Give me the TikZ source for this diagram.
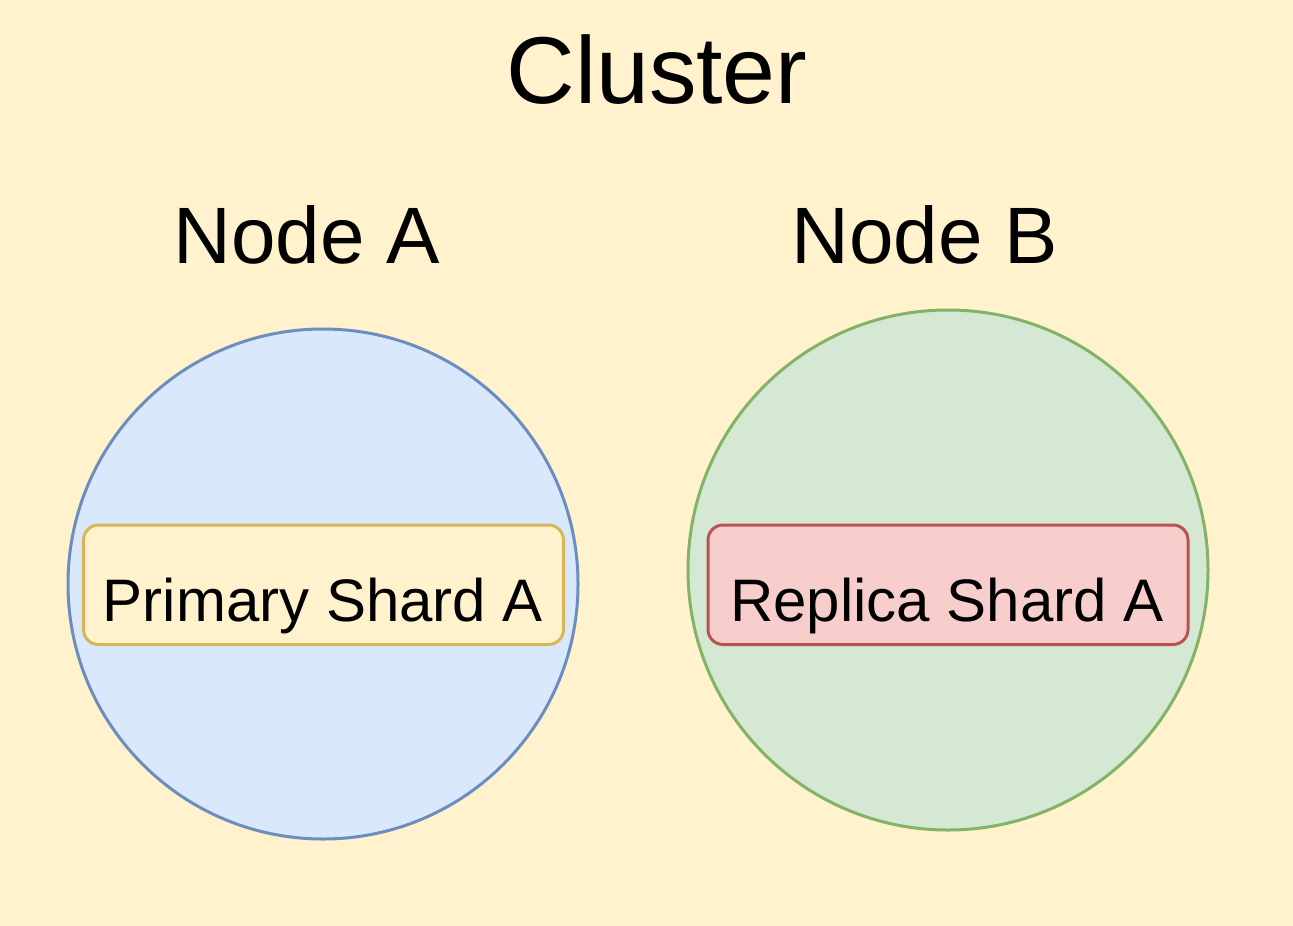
\documentclass[tikz,border=0pt]{standalone}
\usepackage{fontspec}
\setmainfont{Liberation Sans}
\definecolor{clusterfill}{HTML}{FFF2CC}
\definecolor{shardAstroke}{HTML}{D6B656}
\definecolor{nodeAfill}{HTML}{DAE8FC}
\definecolor{nodeAstroke}{HTML}{6C8EBF}
\definecolor{nodeBfill}{HTML}{D5E8D4}
\definecolor{nodeBstroke}{HTML}{82B366}
\definecolor{shardBfill}{HTML}{F8CECC}
\definecolor{shardBstroke}{HTML}{B85450}
\tikzset{
  machine/.style={circle, line width=3pt, inner sep=0pt},
  shardbox/.style={rounded corners=15pt, line width=3pt},
  bigtitle/.style={anchor=base, inner sep=0pt, font=\fontsize{95}{100}\selectfont},
  nodetitle/.style={anchor=base, inner sep=0pt, font=\fontsize{80}{84}\selectfont},
  shardtext/.style={anchor=base, inner sep=0pt, font=\fontsize{60}{64}\selectfont},
}
\begin{document}
\begin{tikzpicture}[x=1pt,y=-1pt]
\fill[clusterfill] (0,0) rectangle (1293,926);
\useasboundingbox (0,0) rectangle (1293,926);
\node[bigtitle] (cluster) at (657,103) {Cluster};
\node[nodetitle] (titleA) at (307,263) {Node A};
\node[nodetitle] (titleB) at (925,263) {Node B};
\node[machine, fill=nodeAfill, draw=nodeAstroke, minimum size=510pt] (nodeA) at (323,584) {};
\node[machine, fill=nodeBfill, draw=nodeBstroke, minimum size=520pt] (nodeB) at (948,570) {};
\draw[shardbox, fill=clusterfill, draw=shardAstroke] (83.5,525) rectangle (563.5,644.5);
\draw[shardbox, fill=shardBfill, draw=shardBstroke] (708,525) rectangle (1188,644.5);
\node[shardtext] (shardA) at (323,621) {Primary Shard A};
\node[shardtext] (shardB) at (947,621) {Replica Shard A};
\end{tikzpicture}
\end{document}
